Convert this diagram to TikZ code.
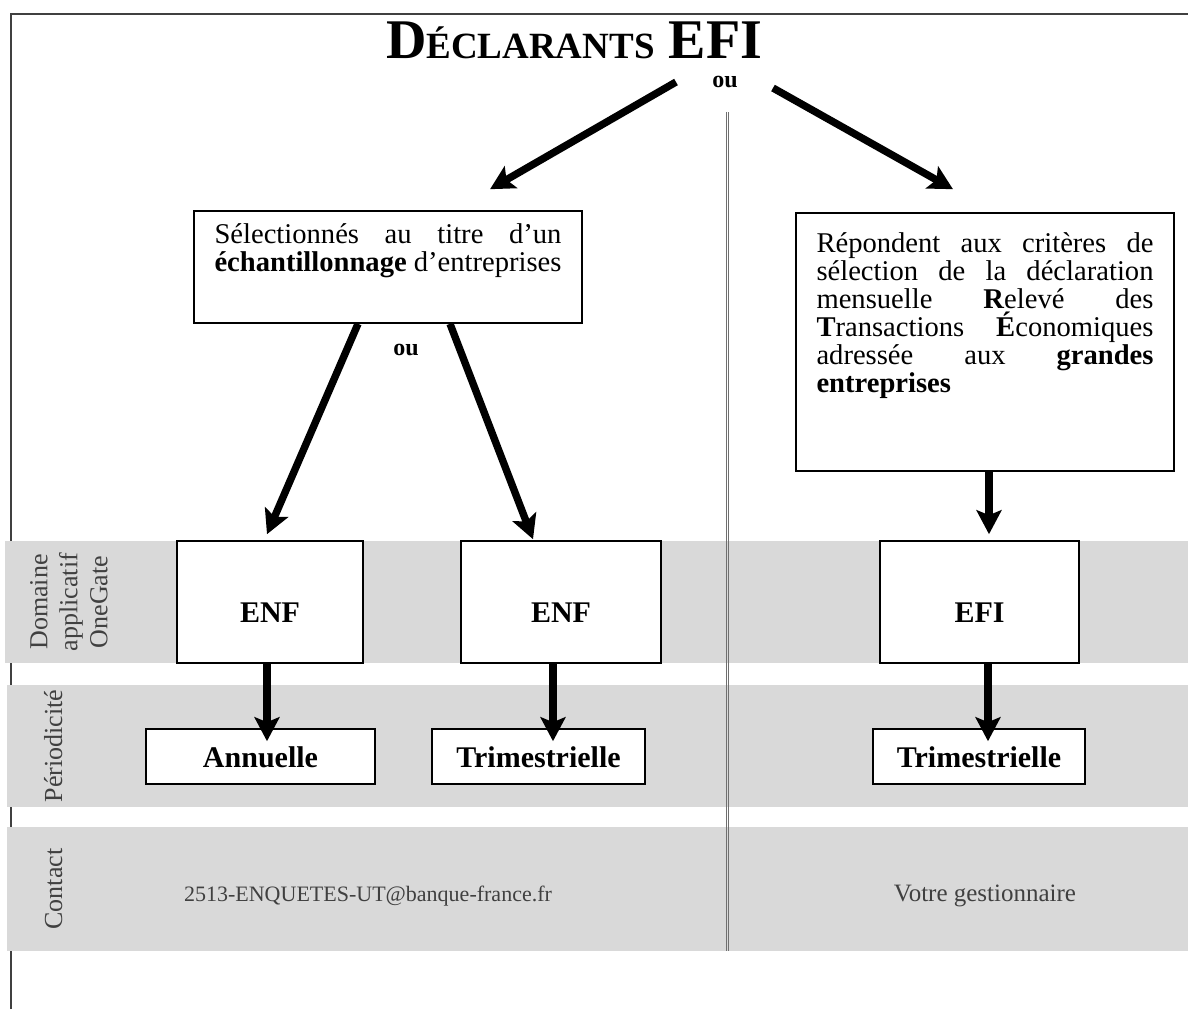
\documentclass[tikz,border=0pt]{standalone}
\usepackage{fontspec}
\setmainfont{Liberation Serif}
\usetikzlibrary{arrows.meta}
\definecolor{bandgray}{HTML}{D9D9D9}
\definecolor{labelgray}{HTML}{404040}
\definecolor{framegray}{HTML}{404040}
\definecolor{sepgray}{HTML}{707070}
\newcommand{\boxpar}[3]{\parbox[c][#1][t]{#2}{\hbadness=10000\hyphenpenalty=10000\exhyphenpenalty=10000 #3}}
\begin{document}
\begin{tikzpicture}[x=0.5pt,y=-0.5pt,
  bigarrow/.style={line width=3.7pt,-{Stealth[length=12pt,width=12.5pt,inset=2.5pt]}},
  boxed/.style={draw=black,line width=0.8pt,fill=white,inner sep=0pt},
  band/.style={fill=bandgray,draw=none},
  bandlabel/.style={rotate=90,text=labelgray,font=\fontsize{13}{15}\selectfont,align=center,inner sep=0pt},
  boxlabel/.style={font=\fontsize{15}{17}\selectfont\bfseries},
  biglabel/.style={boxlabel,text height=20pt,text depth=0pt},
  smalllabel/.style={boxlabel,text height=10.5pt,text depth=0pt},
  contacttext/.style={text=labelgray,inner sep=0pt},
  oulabel/.style={font=\fontsize{12}{14}\selectfont\bfseries,inner sep=0pt},
  bodytext/.style={font=\fontsize{14.3}{14}\selectfont},
]
\useasboundingbox (0,0) rectangle (1188,1009);
% frame
\draw[framegray,line width=0.6pt] (11,1009) -- (11,14) -- (1188,14);
% bands
\fill[band] (5,541) rectangle (1188,663);
\fill[band] (7,685) rectangle (1188,807);
\fill[band] (7,827) rectangle (1188,951);
% title
\node[anchor=base,inner sep=0pt] (title) at (574,58)
  {\bfseries{\fontsize{28}{32}\selectfont D}{\fontsize{18.5}{22}\selectfont ÉCLARANTS}{\fontsize{28}{32}\selectfont\ EFI}};
\node[oulabel,anchor=base] (ou1) at (725,87) {ou};
% separator
\draw[sepgray,line width=0.5pt] (726.3,112) -- (726.3,951);
\draw[sepgray,line width=0.5pt] (728.9,112) -- (728.9,951);
% boxes
\node[boxed,bodytext,minimum width=194pt] (boxA) at (388,267)
  {\boxpar{56pt}{173.5pt}{\rule{0pt}{16pt}Sélectionnés au titre d’un\linebreak
   \textbf{échantillonnage} d’entreprises}};
\node[boxed,bodytext,minimum width=189pt] (boxB) at (985,342)
  {\boxpar{129pt}{168.5pt}{\rule{0pt}{19.5pt}Répondent aux critères de\linebreak
   sélection de la déclaration\linebreak
   mensuelle \textbf{R}elevé des\linebreak
   \textbf{T}ransactions \textbf{É}conomiques\linebreak
   adressée aux \textbf{grandes}\linebreak
   \textbf{entreprises}}};
\node[oulabel,anchor=base] (ou2) at (406,355) {ou};
\node[boxed,biglabel,minimum width=93pt,minimum height=61pt] (enf1) at (270,602) {ENF};
\node[boxed,biglabel,minimum width=100pt,minimum height=61pt] (enf2) at (561,602) {ENF};
\node[boxed,biglabel,minimum width=99.5pt,minimum height=61pt] (efi) at (979.5,602) {EFI};
\node[boxed,smalllabel,minimum width=114.5pt,minimum height=27.5pt] (ann) at (260.5,756.5) {Annuelle};
\node[boxed,smalllabel,minimum width=106.5pt,minimum height=27.5pt] (tri1) at (538.5,756.5) {Trimestrielle};
\node[boxed,smalllabel,minimum width=106pt,minimum height=27.5pt] (tri2) at (979,756.5) {Trimestrielle};
% band labels
\node[bandlabel] (lblA) at (69,602) {Domaine\\applicatif\\OneGate};
\node[bandlabel,anchor=base] (lblB) at (62,746) {Périodicité};
\node[bandlabel,anchor=base] (lblC) at (62,889) {Contact};
\node[contacttext,font=\fontsize{11}{13}\selectfont,anchor=base] (mail) at (368,901) {2513-ENQUETES-UT@banque-france.fr};
\node[contacttext,font=\fontsize{12.5}{14}\selectfont,anchor=base] (gest) at (985,901) {Votre gestionnaire};
% arrows
\coordinate (s1) at (676,82);
\coordinate (s2) at (773,88);
\draw[bigarrow] (s1) -- ([xshift=51pt,yshift=10.5pt]boxA.north);
\draw[bigarrow] (s2) -- ([xshift=-16pt,yshift=11.5pt]boxB.north);
\draw[bigarrow] ([xshift=-15pt]boxA.south) -- ([xshift=-1.5pt,yshift=3pt]enf1.north);
\draw[bigarrow] ([xshift=31pt]boxA.south) -- ([xshift=-14pt,yshift=0.5pt]enf2.north);
\draw[bigarrow] ([xshift=2pt]boxB.south) -- ([xshift=4.75pt,yshift=3pt]efi.north);
\draw[bigarrow] ([xshift=-1.5pt]enf1.south) -- ([xshift=3.25pt,yshift=-6.5pt]ann.north);
\draw[bigarrow] ([xshift=-4pt]enf2.south) -- ([xshift=7.25pt,yshift=-6.5pt]tri1.north);
\draw[bigarrow] ([xshift=4.25pt]efi.south) -- ([xshift=4.5pt,yshift=-6.5pt]tri2.north);
\end{tikzpicture}
\end{document}
